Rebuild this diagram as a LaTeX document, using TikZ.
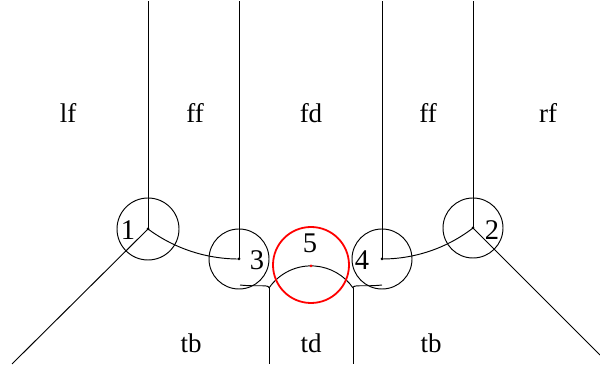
\documentclass[tikz,border=0pt]{standalone}
\usepackage{fontspec}
\setmainfont{Liberation Serif}
\begin{document}
\begin{tikzpicture}[x=1pt,y=1pt,
  edge/.style={line width=0.95pt,black},
  ring/.style={line width=0.95pt,black},
  redring/.style={line width=1.8pt,red},
  lbl/.style={anchor=base,inner sep=0pt,font=\fontsize{27}{30}\selectfont},
  num/.style={anchor=base,inner sep=0pt,font=\fontsize{28.5}{30}\selectfont}]
\useasboundingbox (0,0) rectangle (600,374);
% vertices
\coordinate (v1) at (148,145);
\coordinate (v3) at (239,115);
\coordinate (v4) at (382,115);
\coordinate (v2) at (473,146);
\coordinate (t1) at (148,373);
\coordinate (t3) at (239,373);
\coordinate (t4) at (382,373);
\coordinate (t2) at (473,373);
\coordinate (b1) at (12,10);
\coordinate (b2) at (600,19);
\coordinate (tdl) at (269,86);
\coordinate (tdr) at (353,86);
\coordinate (tdlb) at (269,10);
\coordinate (tdrb) at (353,10);
\coordinate (cl) at (240,89);
\coordinate (cr) at (382,89);
\coordinate (c5) at (311,109);
\coordinate (d5) at (311,108);
% circles
\draw[ring] (v1) circle[radius=31];
\draw[ring] (v3) circle[radius=30];
\draw[ring] (v4) circle[radius=30];
\draw[ring] (v2) circle[radius=30];
% edges
\draw[edge] (v1) -- (t1);
\draw[edge] (v3) -- (t3);
\draw[edge] (v4) -- (t4);
\draw[edge] (v2) -- (t2);
\draw[edge] (v1) -- (b1);
\draw[edge] (v2) -- (b2);
\draw[edge] (v1) arc[start angle=233.5,end angle=270,radius=153];
\draw[edge] (v4) arc[start angle=270,end angle=307.6,radius=149.1];
\draw[edge] (tdl) -- (tdlb);
\draw[edge] (tdr) -- (tdrb);
\draw[edge] (cl) .. controls (258,87) and (269,90) .. (tdl);
\draw[edge] (cr) .. controls (364,87) and (353,90) .. (tdr);
\draw[edge] (tdl) arc[start angle=145.5,end angle=34.5,radius=51];
% dots
\fill (v1) circle[radius=1.5];
\fill (v3) circle[radius=1.5];
\fill (v4) circle[radius=1.5];
\fill (v2) circle[radius=1.5];
% red
\draw[redring] (c5) circle[radius=38];
\fill[red] (d5) circle[radius=1.5];
% labels
\node[lbl] (lf) at (68,251) {lf};
\node[lbl] (ff1) at (195,251) {ff};
\node[lbl] (fd) at (311,251) {fd};
\node[lbl] (ff2) at (428,251) {ff};
\node[lbl] (rf) at (548,251) {rf};
\node[lbl] (tb1) at (191,21) {tb};
\node[lbl] (td) at (311,21) {td};
\node[lbl] (tb2) at (431,21) {tb};
\node[num] (n1) at (128,134) {1};
\node[num] (n3) at (257,104) {3};
\node[num] (n5) at (310,121) {5};
\node[num] (n4) at (362,104) {4};
\node[num] (n2) at (492,134) {2};
\end{tikzpicture}
\end{document}
